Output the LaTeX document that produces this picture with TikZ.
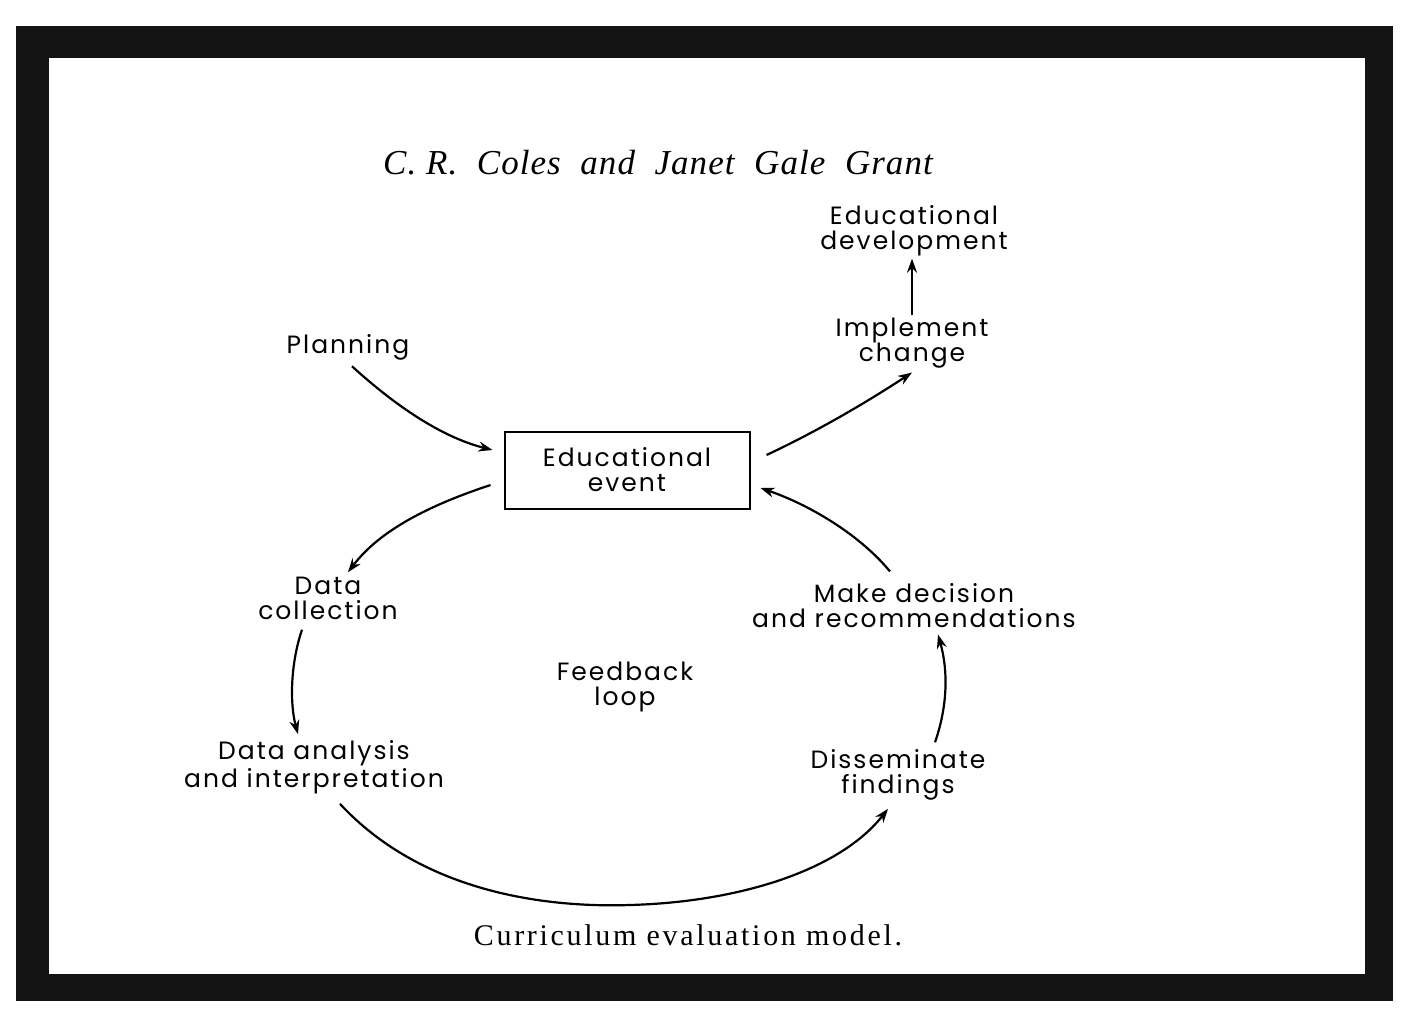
\documentclass[tikz,border=0pt]{standalone}
\usepackage{fontspec}
\setmainfont{Liberation Serif}
\newfontfamily\gothic[LetterSpace=8]{Poppins}
\usetikzlibrary{arrows.meta,calc}
\begin{document}
\begin{tikzpicture}[x=0.5pt,y=-0.5pt,
  lbl/.style={font=\gothic\fontsize{12.5}{12.5}\selectfont, align=center, inner sep=1pt},
  arr/.style={line width=1.1pt, -{Stealth[length=7pt,width=5pt]}},
]
\useasboundingbox (0,0) rectangle (1408,1012);
% frame
\fill[black!92] (16,26) rectangle (1393,1001);
\fill[white] (49,58) rectangle (1365,974);
% title
\node[font=\itshape\fontsize{17.5}{19}\selectfont\addfontfeature{LetterSpace=3}] (title) at (658,163) {C.\ R.\ \ Coles \ and \ Janet \ Gale \ Grant};
% nodes
\node[lbl] (edudev) at (914,231) {Educational\\development};
\node[lbl] (impl) at (912,343) {Implement\\change};
\node[lbl] (plan) at (348,347) {Planning};
\node[draw, line width=1pt, minimum width=245*0.5pt, minimum height=77*0.5pt, lbl, inner sep=1pt] (event) at (627,470) {Educational\\event};
\node[lbl] (dcol) at (328,598) {Data\\collection};
\node[lbl] (dec) at (914,606) {Make decision\\and recommendations};
\node[lbl] (fb) at (625,687) {Feedback\\loop};
\node[lbl] (dana) at (314,767) {Data analysis\\and interpretation};
\node[lbl] (diss) at (898,775) {Disseminate\\findings};
\node[font=\fontsize{15}{16}\selectfont\addfontfeature{LetterSpace=9}] (cap) at (688,935) {Curriculum evaluation model.};
% connectors
\draw[arr] ($(plan.south)+(4,4)$) .. controls (400,410) and (445,438) .. ($(event.west)+(-11,-20)$);
\draw[arr] ($(event.east)+(16,-15)$) .. controls (820,430) and (870,400) .. ($(impl.south)+(0,2)$);
\draw[arr] (impl.north) -- (impl.north |- edudev.south);
\draw[arr] ($(event.west)+(-13,15)$) .. controls (430,505) and (380,530) .. ($(dcol.north)+(20,-2)$);
\draw[arr] ($(dcol.south)+(-26,8)$) .. controls (290,665) and (290,705) .. ($(dana.north)+(-16,-4)$);
\draw[arr] ($(dana.south)+(26,8)$) .. controls (420,890) and (540,908) .. (630,905) .. controls (740,902) and (840,870) .. ($(diss.south)+(-10,6)$);
\draw[arr] ($(diss.north)+(37,-5)$) .. controls (948,705) and (948,670) .. ($(dec.south)+(24,4)$);
\draw[arr] ($(dec.north)+(-24,-10)$) .. controls (860,535) and (810,505) .. ($(event.east)+(10,18)$);
\end{tikzpicture}
\end{document}
